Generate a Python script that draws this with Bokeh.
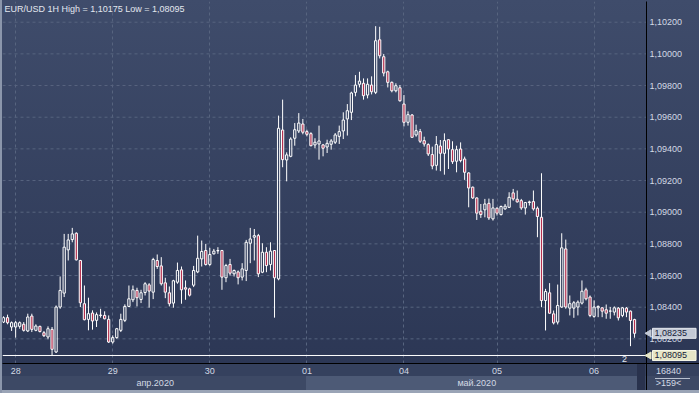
import numpy as np
from bokeh.plotting import figure
from bokeh.models import FixedTicker, LinearAxis, Label, Range1d
from bokeh.core.properties import value
from bokeh.embed import file_html
from bokeh.resources import INLINE

# ---------------- data (EUR/USD, 1H candles) ----------------
opens = [1.08306, 1.08334, 1.08275, 1.08275, 1.08279, 1.08292, 1.08250, 1.08344, 1.08254, 1.08279,
         1.08239, 1.08212, 1.08260, 1.08117, 1.08401, 1.08489, 1.08762, 1.08827, 1.08867, 1.08695,
         1.08422, 1.08323, 1.08363, 1.08317, 1.08348, 1.08348, 1.08323, 1.08180, 1.08208, 1.08254,
         1.08317, 1.08405,
         1.08447, 1.08506, 1.08449, 1.08493, 1.08541, 1.08495, 1.08695, 1.08661, 1.08554, 1.08491,
         1.08426, 1.08558, 1.08636, 1.08523, 1.08516, 1.08539, 1.08623, 1.08705, 1.08758, 1.08670,
         1.08737, 1.08756, 1.08758, 1.08586, 1.08670, 1.08611, 1.08623, 1.08590, 1.08632, 1.08804,
         1.08842, 1.08852, 1.08621, 1.08747, 1.08670, 1.08758, 1.08579, 1.09519, 1.09330, 1.09353,
         1.09467, 1.09513, 1.09557, 1.09509, 1.09496, 1.09425, 1.09431, 1.09425, 1.09412, 1.09429,
         1.09442, 1.09479, 1.09513, 1.09589, 1.09631, 1.09757, 1.09808, 1.09814, 1.09740, 1.09803,
         1.09757, 1.10089, 1.09982, 1.09887, 1.09820, 1.09767, 1.09786, 1.09683, 1.09568, 1.09614,
         1.09488, 1.09509, 1.09452, 1.09427, 1.09364, 1.09296, 1.09418, 1.09372, 1.09458, 1.09395,
         1.09322, 1.09399, 1.09336, 1.09248, 1.09158, 1.09090, 1.09006, 1.09015, 1.09056, 1.08958,
         1.09025, 1.08985, 1.09021, 1.09031, 1.09122, 1.09082, 1.09073, 1.09027, 1.09061, 1.09067,
         1.09025, 1.08968, 1.08442, 1.08491, 1.08358, 1.08306, 1.08401, 1.08768, 1.08394, 1.08394,
         1.08401, 1.08426, 1.08510, 1.08464, 1.08342, 1.08396, 1.08396, 1.08384, 1.08375, 1.08369,
         1.08394, 1.08348, 1.08394, 1.08375, 1.08322]

highs = [1.08342, 1.08353, 1.08310, 1.08313, 1.08310, 1.08306, 1.08359, 1.08359, 1.08292, 1.08283,
         1.08250, 1.08279, 1.08275, 1.08411, 1.08594, 1.08863, 1.08863, 1.08901, 1.08873, 1.08699,
         1.08537, 1.08460, 1.08380, 1.08367, 1.08390, 1.08374, 1.08348, 1.08222, 1.08269, 1.08359,
         1.08418, 1.08537,
         1.08537, 1.08523, 1.08510, 1.08558, 1.08552, 1.08712, 1.08733, 1.08716, 1.08586, 1.08531,
         1.08573, 1.08682, 1.08657, 1.08569, 1.08523, 1.08661, 1.08852, 1.08821, 1.08800, 1.08775,
         1.08768, 1.08779, 1.08762, 1.08674, 1.08705, 1.08638, 1.08632, 1.08678, 1.08825, 1.08901,
         1.08894, 1.08863, 1.08804, 1.08779, 1.08810, 1.08758, 1.09610, 1.09711, 1.09378, 1.09473,
         1.09563, 1.09626, 1.09589, 1.09521, 1.09505, 1.09467, 1.09547, 1.09431, 1.09458, 1.09462,
         1.09500, 1.09547, 1.09631, 1.09683, 1.09761, 1.09866, 1.09887, 1.09845, 1.09845, 1.09858,
         1.10175, 1.10171, 1.09999, 1.09894, 1.09826, 1.09814, 1.09803, 1.09740, 1.09637, 1.09620,
         1.09553, 1.09526, 1.09477, 1.09435, 1.09414, 1.09481, 1.09456, 1.09498, 1.09462, 1.09448,
         1.09420, 1.09441, 1.09351, 1.09252, 1.09162, 1.09094, 1.09052, 1.09084, 1.09086, 1.09084,
         1.09031, 1.09042, 1.09052, 1.09126, 1.09147, 1.09137, 1.09084, 1.09065, 1.09073, 1.09137,
         1.09036, 1.09246, 1.08516, 1.08552, 1.08379, 1.08543, 1.08867, 1.08827, 1.08474, 1.08439,
         1.08443, 1.08569, 1.08523, 1.08474, 1.08443, 1.08411, 1.08401, 1.08417, 1.08401, 1.08405,
         1.08401, 1.08401, 1.08401, 1.08379, 1.08327]

lows = [1.08300, 1.08292, 1.08250, 1.08208, 1.08264, 1.08246, 1.08243, 1.08243, 1.08248, 1.08241,
        1.08212, 1.08197, 1.08095, 1.08111, 1.08390, 1.08464, 1.08695, 1.08810, 1.08695, 1.08401,
        1.08317, 1.08254, 1.08258, 1.08275, 1.08334, 1.08323, 1.08174, 1.08170, 1.08201, 1.08243,
        1.08306, 1.08401,
        1.08432, 1.08405, 1.08426, 1.08474, 1.08397, 1.08451, 1.08642, 1.08537, 1.08457, 1.08405,
        1.08397, 1.08548, 1.08422, 1.08447, 1.08468, 1.08527, 1.08615, 1.08657, 1.08663, 1.08661,
        1.08733, 1.08737, 1.08510, 1.08558, 1.08600, 1.08594, 1.08544, 1.08569, 1.08565, 1.08678,
        1.08695, 1.08590, 1.08615, 1.08621, 1.08632, 1.08334, 1.08570, 1.09284, 1.09195, 1.09347,
        1.09420, 1.09500, 1.09492, 1.09479, 1.09416, 1.09404, 1.09332, 1.09353, 1.09374, 1.09395,
        1.09431, 1.09431, 1.09462, 1.09484, 1.09582, 1.09732, 1.09788, 1.09711, 1.09719, 1.09744,
        1.09746, 1.09971, 1.09858, 1.09788, 1.09757, 1.09757, 1.09698, 1.09542, 1.09547, 1.09473,
        1.09477, 1.09437, 1.09414, 1.09355, 1.09271, 1.09263, 1.09259, 1.09237, 1.09273, 1.09305,
        1.09252, 1.09315, 1.09204, 1.09031, 1.09084, 1.08951, 1.08964, 1.08968, 1.08951, 1.08947,
        1.08979, 1.08979, 1.09015, 1.09027, 1.09073, 1.09061, 1.09015, 1.08985, 1.09042, 1.09010,
        1.08842, 1.08400, 1.08253, 1.08358, 1.08291, 1.08291, 1.08396, 1.08390, 1.08348, 1.08333,
        1.08348, 1.08417, 1.08443, 1.08337, 1.08333, 1.08337, 1.08337, 1.08327, 1.08327, 1.08348,
        1.08316, 1.08337, 1.08337, 1.08154, 1.08207]

closes = [1.08334, 1.08302, 1.08302, 1.08302, 1.08302, 1.08254, 1.08338, 1.08260, 1.08281, 1.08246,
          1.08220, 1.08264, 1.08134, 1.08401, 1.08506, 1.08779, 1.08825, 1.08863, 1.08699, 1.08428,
          1.08321, 1.08359, 1.08313, 1.08353, 1.08350, 1.08327, 1.08180, 1.08208, 1.08264, 1.08323,
          1.08405, 1.08453,
          1.08510, 1.08460, 1.08491, 1.08548, 1.08502, 1.08701, 1.08657, 1.08548, 1.08495, 1.08422,
          1.08567, 1.08632, 1.08510, 1.08514, 1.08476, 1.08632, 1.08709, 1.08752, 1.08670, 1.08733,
          1.08754, 1.08758, 1.08590, 1.08663, 1.08615, 1.08632, 1.08586, 1.08642, 1.08810, 1.08831,
          1.08852, 1.08611, 1.08747, 1.08663, 1.08754, 1.08586, 1.09530, 1.09332, 1.09362, 1.09462,
          1.09521, 1.09563, 1.09505, 1.09492, 1.09420, 1.09442, 1.09450, 1.09404, 1.09435, 1.09450,
          1.09488, 1.09509, 1.09582, 1.09641, 1.09753, 1.09803, 1.09828, 1.09736, 1.09808, 1.09761,
          1.10083, 1.09988, 1.09879, 1.09820, 1.09767, 1.09799, 1.09704, 1.09568, 1.09616, 1.09473,
          1.09515, 1.09448, 1.09431, 1.09368, 1.09292, 1.09427, 1.09372, 1.09452, 1.09399, 1.09319,
          1.09395, 1.09326, 1.09252, 1.09153, 1.09090, 1.08994, 1.08985, 1.09052, 1.08964, 1.09027,
          1.08994, 1.09036, 1.09038, 1.09094, 1.09084, 1.09065, 1.09027, 1.09061, 1.09065, 1.09021,
          1.08973, 1.08442, 1.08499, 1.08362, 1.08301, 1.08411, 1.08775, 1.08401, 1.08422, 1.08428,
          1.08432, 1.08501, 1.08453, 1.08348, 1.08401, 1.08405, 1.08375, 1.08362, 1.08376, 1.08396,
          1.08333, 1.08396, 1.08369, 1.08316, 1.08235]

price_ticks = [1.082, 1.084, 1.086, 1.088, 1.090, 1.092, 1.094, 1.096, 1.098, 1.100, 1.102]
day_ticks = [3, 27, 51, 75, 99, 122, 146]
day_labels = ["28", "29", "30", "01", "04", "05", "06"]
month_starts = [0, 75]
month_labels = ["апр.2020", "май.2020"]
title_text = "EUR/USD 1H High = 1,10175 Low = 1,08095"
low_price = 1.08095
bars_total = "16840"
bars_visible = ">159<"
indicator_text = "2"

# ---------------- geometry ----------------
n = len(opens)
o = np.array(opens); h = np.array(highs); l = np.array(lows); c = np.array(closes)
x = np.arange(n)

PX_PER_BAR = 4.045
x_start = -0.25
x_axis = x_start + 644 / PX_PER_BAR        # price-scale edge (chart area ends here)
x_end = x_start + 697 / PX_PER_BAR         # frame spans the price-scale strip too
x_price_lab = x_start + 647 / PX_PER_BAR
x_corner = x_start + 666 / PX_PER_BAR
x_arrow = x_start + 646.5 / PX_PER_BAR

FONT = "Liberation Sans"
TXT = "#d3d9e4"


def fmt(v):
    return f"{v:.5f}".replace(".", ",")


p = figure(width=699, height=393, x_range=Range1d(x_start, x_end),
           y_range=Range1d(1.080444, 1.103308), y_axis_location=None,
           output_backend="svg", toolbar_location=None,
           min_border_left=2, min_border_right=0, min_border_top=1, min_border_bottom=30)

p.background_fill_alpha = 0
p.border_fill_alpha = 0
p.outline_line_color = None

bg_layers = [
    "linear-gradient(#8b96ab,#8b96ab) 0px 0px / 2px 393px no-repeat",
    "linear-gradient(#9aa4b6,#9aa4b6) 0px 390px / 699px 3px no-repeat",
    "linear-gradient(#000000,#000000) 646px 363px / 1px 30px no-repeat",
    "linear-gradient(#b8c0cf,#b8c0cf) 655px 378px / 35px 1px no-repeat",
    "linear-gradient(#29324d,#29324d) 637px 364px / 8px 26px no-repeat",
    "linear-gradient(#4d5a76,#4d5a76) 306px 376px / 331px 14px no-repeat",
    "linear-gradient(to bottom, #3f4c6b 0px, #2c3755 363px, #35415e 363px, "
    "#35415e 376px, #3d4965 376px, #3d4965 393px)",
]
p.styles = {"background": ", ".join(bg_layers)}

# day axis (below) + corner counter
xa = p.xaxis[0]
xa.ticker = FixedTicker(ticks=day_ticks + [x_corner])
overrides = {t: s for t, s in zip(day_ticks, day_labels)}
overrides[x_corner] = bars_total
xa.major_label_overrides = overrides
xa.major_tick_out = 0
xa.major_tick_in = 0
xa.minor_tick_out = 0
xa.minor_tick_in = 0
xa.major_label_standoff = 4
xa.axis_line_color = "black"
xa.major_label_text_font = FONT
xa.major_label_text_font_size = "9px"
xa.major_label_text_color = TXT

# month axis (below, second row) + visible bars counter
month_ends = month_starts[1:] + [n + 2]
month_centers = [(s + e) / 2 for s, e in zip(month_starts, month_ends)]
m_over = {t: s for t, s in zip(month_centers, month_labels)}
m_over[x_corner] = bars_visible
ma = LinearAxis(ticker=FixedTicker(ticks=month_centers + [x_corner]),
                major_label_overrides=m_over)
ma.major_tick_out = 0
ma.major_tick_in = 0
ma.minor_tick_out = 0
ma.minor_tick_in = 0
ma.major_label_standoff = 1
ma.axis_line_color = None
ma.major_label_text_font = FONT
ma.major_label_text_font_size = "9px"
ma.major_label_text_color = TXT
p.add_layout(ma, "below")

# grids: vertical from the day ticker, horizontal limited to chart area
GRID = "#57647f"
xg = p.xgrid[0]
xg.ticker = FixedTicker(ticks=day_ticks)
xg.grid_line_color = GRID
xg.grid_line_dash = "3 3"
p.ygrid[0].visible = False
p.segment(x0=[x_start] * len(price_ticks), y0=price_ticks,
          x1=[x_axis] * len(price_ticks), y1=price_ticks,
          line_color=GRID, line_dash="3 3", line_width=1)

# price-scale edge
p.segment(x0=[x_axis], y0=[1.0800], x1=[x_axis], y1=[1.1040], line_color="black", line_width=1)

# price labels (right scale)
p.text(x=[x_price_lab] * len(price_ticks), y=price_ticks, text=[fmt(v) for v in price_ticks],
       text_font=value(FONT), text_font_size=value("9px"), text_color=TXT,
       text_baseline="middle", text_align="left")

# low line
p.segment(x0=[x_start], y0=[low_price], x1=[x_axis], y1=[low_price], line_color="white", line_width=1)

# candles
top = np.maximum(o, c)
bot = np.minimum(o, c)
p.segment(x0=x, y0=h, x1=x, y1=top, line_color="white", line_width=1)
p.segment(x0=x, y0=bot, x1=x, y1=l, line_color="white", line_width=1)
bull = c >= o
bear = ~bull
p.vbar(x=x[bull], bottom=o[bull], top=c[bull], width=0.55,
       fill_alpha=0, line_color="white", line_width=1)
p.vbar(x=x[bear], bottom=c[bear], top=o[bear], width=0.55,
       fill_color="#b5304f", line_color="white", line_width=1)

# texts
p.add_layout(Label(x=2, y=360, x_units="screen", y_units="screen", text=title_text,
                   text_font=FONT, text_font_size="9px", text_color="#e2e7ef",
                   text_baseline="top", text_align="left"))
p.add_layout(Label(x=622, y=5, x_units="screen", y_units="screen", text=indicator_text,
                   text_font=FONT, text_font_size="9px", text_color="#e2e7ef",
                   text_baseline="middle", text_align="center"))

# price tags (last price, session low) with a pointer
last = closes[-1]
tag_y = [last, low_price]
tag_fill = ["#c3c9d5", "#e6e6c6"]
tag_edge = ["#e4e8ee", "#f6f6e6"]
p.scatter(x=[x_arrow] * 2, y=tag_y, marker="triangle", size=7, angle=np.pi / 2,
          fill_color=tag_fill, line_color=tag_fill)
for ty, tf, te in zip(tag_y, tag_fill, tag_edge):
    p.add_layout(Label(x=650, y=ty, x_units="screen", y_units="data", text=fmt(ty),
                       text_font=FONT, text_font_size="9px", text_color="#17203a",
                       text_baseline="middle", text_align="left",
                       background_fill_color=tf, border_line_color=te,
                       padding=(2, 9, 2, 2)))

open("out.html", "w").write(file_html(p, INLINE))
